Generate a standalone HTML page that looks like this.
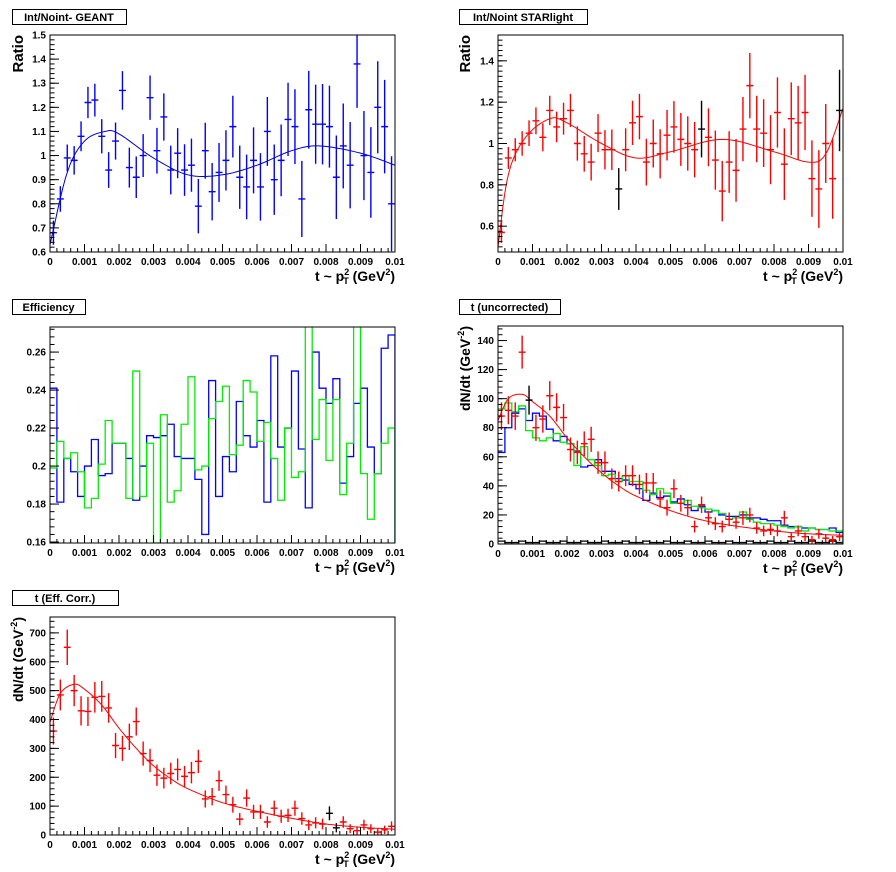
<!DOCTYPE html>
<html><head><meta charset="utf-8"><style>
html,body{margin:0;padding:0;background:#fff;}
svg{display:block;font-family:"Liberation Sans",Arial,sans-serif;font-weight:bold;}
</style></head><body>
<svg id="s" width="896" height="872" xmlns="http://www.w3.org/2000/svg"></svg>
<script>
const S=document.getElementById('s');let out='';
function P(o){
 const {x0,x1,y0,y1,ymin,ymax}=o;
 const X=t=>x0+(t/0.01)*(x1-x0), Y=v=>y1-(v-ymin)/(ymax-ymin)*(y1-y0);
 let g='';
 g+=`<rect x="${o.tb[0]}.5" y="${o.tb[1]}.5" width="${o.tb[2]}" height="15" fill="#fff" stroke="#000"/>`;
 g+=`<text x="${o.tb[0]+o.tb[2]/2}" y="${o.tb[1]+12}" font-size="11" text-anchor="middle">${o.title}</text>`;
 g+=`<defs><clipPath id="c${o.id}"><rect x="${x0}" y="${y0}" width="${x1-x0}" height="${y1-y0}"/></clipPath></defs>`;
 let inner='';
 (o.hists||[]).forEach(h=>{let d='M'+x0+','+Math.min(y1,Y(h.v[0]));const w=(x1-x0)/h.v.length;
  h.v.forEach((v,i)=>{const yy=Math.max(y0-5,Math.min(y1,Y(v)));d+=` L${x0+i*w},${yy} L${x0+(i+1)*w},${yy}`;});
  d+=` L${x1},${y1}`;inner+=`<path d="${d}" fill="none" stroke="${h.c}" stroke-width="1.3"/>`;});
 if(o.curve){const p=o.curve;let pts=[];
  for(let i=0;i<p.length-1;i++){const a=p[Math.max(0,i-1)],b=p[i],c=p[i+1],d=p[Math.min(p.length-1,i+2)];
   for(let k=0;k<10;k++){const t=k/10,t2=t*t,t3=t2*t;
    const f=(A,B,C,D)=>0.5*((2*B)+(-A+C)*t+(2*A-5*B+4*C-D)*t2+(-A+3*B-3*C+D)*t3);
    pts.push([X(f(a[0],b[0],c[0],d[0])),Y(f(a[1],b[1],c[1],d[1]))]);}}
  pts.push([X(p[p.length-1][0]),Y(p[p.length-1][1])]);
  inner+=`<polyline points="${pts.map(q=>q[0].toFixed(1)+','+q[1].toFixed(1)).join(' ')}" fill="none" stroke="${o.cc}" stroke-width="1"/>`;}
 (o.pts||[]).forEach(s=>{const w=(x1-x0)/s.v.length;s.v.forEach((v,i)=>{const cx=x0+(i+0.5)*w,cy=Y(v),e=s.e(v,i)*(y1-y0)/(ymax-ymin);
  const col=(s.blk&&s.blk.includes(i))?'#000':s.c;
  inner+=`<path d="M${cx-w/2},${cy}H${cx+w/2}M${cx},${cy-e}V${cy+e}" stroke="${col}" stroke-width="1.4"/>`;});});
 g+=`<g clip-path="url(#c${o.id})">${inner}</g>`;
 g+=`<rect x="${x0}" y="${y0}" width="${x1-x0}" height="${y1-y0}" fill="none" stroke="#000"/>`;
 for(let i=0;i<=50;i++){const xx=X(i*0.0002);const L=i%5==0?8:4;g+=`<line x1="${xx}" y1="${y1}" x2="${xx}" y2="${y1-L}" stroke="#000"/>`;}
 for(let i=0;i<=10;i++){const lab=i==0?'0':i==10?'0.01':'0.00'+i;g+=`<text x="${X(i*0.001)}" y="${y1+13}" font-size="10" text-anchor="middle">${lab}</text>`;}
 o.yt.forEach(([v,lab])=>{const yy=Y(v);g+=`<line x1="${x0}" y1="${yy}" x2="${x0+9}" y2="${yy}" stroke="#000"/><text x="${x0-4}" y="${yy+3.5}" font-size="10" text-anchor="end">${lab}</text>`;});
 for(let v=o.ymn0;v<=ymax+1e-9;v+=o.ms){if(v<ymin-1e-9)continue;const yy=Y(v);g+=`<line x1="${x0}" y1="${yy}" x2="${x0+4.5}" y2="${yy}" stroke="#000"/>`;}
 g+=`<text x="${x1}" y="${y1+29}" font-size="14" text-anchor="end">t ~ p<tspan font-size="9" dy="-6" dx="0">2</tspan><tspan font-size="9" dy="9" dx="-6">T</tspan><tspan dy="-3"> (GeV</tspan><tspan font-size="9" dy="-6">2</tspan><tspan dy="6">)</tspan></text>`;
 if(o.yl=='Ratio')g+=`<text transform="translate(${o.ylx},${y0}) rotate(-90)" font-size="15" text-anchor="end">Ratio</text>`;
 else if(o.yl)g+=`<text transform="translate(${o.ylx},${y0}) rotate(-90)" font-size="14" text-anchor="end">dN/dt (GeV<tspan font-size="9" dy="-6">-2</tspan><tspan dy="6">)</tspan></text>`;
 out+=g;
}
const r1=[0.68,0.82,0.99,0.98,1.08,1.22,1.23,1.08,0.94,1.06,1.27,0.95,0.91,1.0,1.24,1.02,1.16,0.94,1.01,0.94,0.96,0.79,1.02,0.85,0.93,0.98,1.12,0.91,0.87,0.98,0.87,1.1,0.9,0.98,1.15,1.12,0.82,1.19,1.13,1.13,1.12,0.91,1.04,0.96,1.38,1.0,0.93,1.2,1.12,0.8];
const r2=[0.57,0.93,0.97,1.0,1.05,1.11,1.03,1.16,1.08,1.12,1.16,1.0,0.95,0.91,1.05,0.97,0.97,0.78,0.97,1.1,1.13,0.91,1.0,0.95,1.04,1.08,1.02,1.0,0.97,1.07,1.03,0.92,0.77,0.91,0.87,1.07,1.28,1.07,1.05,0.97,1.15,0.9,1.12,1.1,1.15,0.83,0.78,1.0,0.83,1.16];
const eR=(v,i)=>0.05+i*0.003;
P({id:1,x0:50,x1:395,y0:35,y1:252,ymin:0.6,ymax:1.5,tb:[12,9,114],title:'Int/Noint- GEANT',yl:'Ratio',ylx:23,
 yt:[[0.6,'0.6'],[0.7,'0.7'],[0.8,'0.8'],[0.9,'0.9'],[1,'1'],[1.1,'1.1'],[1.2,'1.2'],[1.3,'1.3'],[1.4,'1.4'],[1.5,'1.5']],ymn0:0.6,ms:0.02,
 pts:[{v:r1,c:'#0000ff',e:eR,blk:[]}],cc:'#0000cc',
 curve:[[0,0.63],[0.0005,0.93],[0.001,1.06],[0.0016,1.10],[0.002,1.09],[0.003,0.99],[0.004,0.92],[0.005,0.92],[0.006,0.96],[0.007,1.02],[0.0078,1.04],[0.009,1.01],[0.01,0.96]]});
P({id:2,x0:498,x1:843,y0:35,y1:252,ymin:0.475,ymax:1.525,tb:[459,9,128],title:'Int/Noint STARlight',yl:'Ratio',ylx:470,
 yt:[[0.6,'0.6'],[0.8,'0.8'],[1,'1'],[1.2,'1.2'],[1.4,'1.4']],ymn0:0.5,ms:0.025,
 pts:[{v:r2,c:'#ff0000',e:eR,blk:[17,29,49]}],cc:'#ff0000',
 curve:[[0,0.5],[0.0003,0.85],[0.0008,1.03],[0.0015,1.12],[0.002,1.1],[0.003,1.0],[0.004,0.93],[0.005,0.96],[0.0065,1.02],[0.008,0.96],[0.009,0.91],[0.0095,0.95],[0.01,1.17]]});
const eb=[0.241,0.181,0.204,0.197,0.184,0.200,0.214,0.195,0.196,0.212,0.212,0.204,0.182,0.200,0.216,0.215,0.216,0.222,0.205,0.204,0.204,0.193,0.164,0.245,0.184,0.205,0.197,0.234,0.216,0.210,0.224,0.181,0.258,0.210,0.220,0.250,0.209,0.178,0.260,0.241,0.233,0.246,0.191,0.205,0.233,0.241,0.210,0.196,0.262,0.269];
const eg=[0.199,0.213,0.204,0.207,0.197,0.178,0.183,0.201,0.224,0.212,0.212,0.183,0.250,0.184,0.212,0.150,0.227,0.181,0.187,0.222,0.247,0.198,0.200,0.225,0.234,0.242,0.206,0.211,0.245,0.239,0.213,0.223,0.204,0.182,0.220,0.194,0.197,0.300,0.214,0.235,0.203,0.235,0.185,0.212,0.300,0.196,0.172,0.196,0.212,0.220];
P({id:3,x0:50,x1:395,y0:327,y1:543,ymin:0.1595,ymax:0.2732,tb:[12,299,73],title:'Efficiency',
 yt:[[0.16,'0.16'],[0.18,'0.18'],[0.2,'0.2'],[0.22,'0.22'],[0.24,'0.24'],[0.26,'0.26']],ymn0:0.16,ms:0.004,
 hists:[{v:eb,c:'#0000ff'},{v:eg,c:'#00ee00'}]});
const red4=[88,92,88,132,99,80,86,102,94,87,65,63,69,72,56,56,45,43,47,47,41,42,42,31,25,38,28,25,12,27,18,14,12,17,15,18,20,11,9,10,9,18,5,9,5,3,7,4,3,5];
const blu4=[63,80,90,93,85,90,88,79,71,74,69,64,53,54,58,50,50,45,44,41,38,30,35,32,33,29,31,27,23,26,22,23,20,19,19,20,18,18,17,16,16,13,12,12,11,11,10,10,11,8];
const grn4=[93,97,91,95,78,73,71,73,76,70,69,54,67,58,54,47,48,43,47,43,43,37,34,38,35,28,28,30,26,25,24,23,21,17,18,22,17,15,14,14,13,12,11,12,9,11,10,10,9,9];
const blk4=red4.map((v,i)=>i%3==0?2:1);
const c4=[[0,85],[0.0003,100],[0.0007,103],[0.001,98],[0.0015,88],[0.002,73],[0.0025,60],[0.003,49],[0.0035,40],[0.004,33],[0.005,23],[0.006,16],[0.007,12],[0.008,9],[0.009,7],[0.01,6]];
P({id:4,x0:498,x1:843,y0:326,y1:544,ymin:0,ymax:150,tb:[459,299,101],title:'t (uncorrected)',yl:'d',ylx:470,
 yt:[[0,'0'],[20,'20'],[40,'40'],[60,'60'],[80,'80'],[100,'100'],[120,'120'],[140,'140']],ymn0:0,ms:4,
 hists:[{v:blk4,c:'#000'},{v:blu4,c:'#0000ff'},{v:grn4,c:'#00ee00'}],
 pts:[{v:red4,c:'#ff0000',e:v=>Math.sqrt(v)*0.9+1,blk:[4]}],cc:'#ff0000',curve:c4});
const red5=[360,485,650,500,430,428,477,480,440,310,300,340,393,282,258,207,197,213,227,203,216,255,125,133,188,140,105,55,128,80,80,45,93,65,68,93,57,35,42,38,75,25,45,22,15,35,22,10,18,30];
P({id:5,x0:50,x1:395,y0:617,y1:835,ymin:0,ymax:755,tb:[12,590,106],title:'t (Eff. Corr.)',yl:'d',ylx:23,
 yt:[[0,'0'],[100,'100'],[200,'200'],[300,'300'],[400,'400'],[500,'500'],[600,'600'],[700,'700']],ymn0:0,ms:20,
 pts:[{v:red5,c:'#ff0000',e:v=>Math.sqrt(v)*2.2+5,blk:[40,41]}],cc:'#ff0000',
 curve:[[0,390],[0.0003,490],[0.0007,522],[0.001,505],[0.0015,450],[0.002,370],[0.0025,300],[0.003,240],[0.0035,195],[0.004,160],[0.005,112],[0.006,82],[0.007,58],[0.008,38],[0.009,27],[0.01,20]]});
S.innerHTML=out;
</script>
</body></html>
